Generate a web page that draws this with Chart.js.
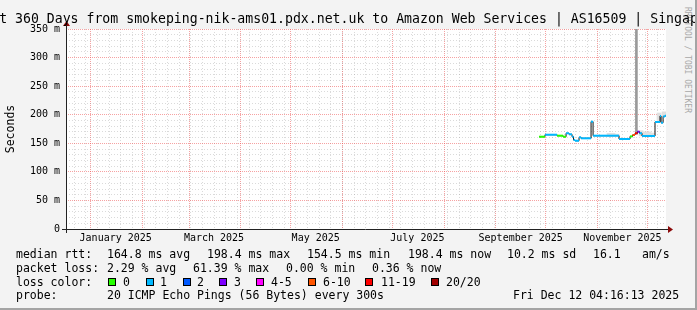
<!DOCTYPE html>
<html><head><meta charset="utf-8">
<script src="https://cdn.jsdelivr.net/npm/chart.js@4/dist/chart.umd.min.js"></script>
<style>
html,body{margin:0;padding:0;}
body{width:697px;height:310px;overflow:hidden;background:#f3f3f3;position:relative;font-family:"DejaVu Sans Mono",monospace;color:#000;}
#frame{position:absolute;left:0;top:0;width:697px;height:310px;box-sizing:border-box;border-right:2px solid #a4a4a4;border-bottom:2px solid #a4a4a4;pointer-events:none;}
canvas{position:absolute;left:0;top:0;}
.t{position:absolute;white-space:pre;font-size:11.5px;line-height:14px;}
#title{position:absolute;left:348.5px;top:10.5px;transform:translateX(-50%);white-space:pre;font-size:13.2px;line-height:16px;}
#wm{position:absolute;left:692px;top:7px;transform-origin:left top;transform:rotate(90deg);white-space:pre;font-size:8px;line-height:9px;color:#a8a8a8;}
.box{position:absolute;width:6px;height:6px;border:1px solid #000;}
</style></head>
<body>
<div id="wm">RRDTOOL / TOBI OETIKER</div>
<canvas id="c" width="697" height="310"></canvas>
<div id="title"></div>
<div id="legend"></div>
<div id="frame"></div>
<script>
// ---------- data ----------
const chartTitle = "Last 360 Days from smokeping-nik-ams01.pdx.net.uk to Amazon Web Services | AS16509 | Singapore";
const windowEnd = "2025-12-12T04:16:13";
const windowDays = 360;

// median RTT steps (each value holds until the next step start)
const stepStart = ["2025-09-27T00:00","2025-09-30T14:00","2025-10-07T19:00","2025-10-11T10:00","2025-10-13T05:00",
  "2025-10-15T00:00","2025-10-16T19:00","2025-10-17T17:00","2025-10-18T14:00","2025-10-21T00:00",
  "2025-10-22T05:00","2025-10-28T05:00","2025-10-29T10:00","2025-11-14T00:00","2025-11-20T14:00",
  "2025-11-22T02:00","2025-11-23T14:00","2025-11-25T02:00","2025-11-26T07:00","2025-11-27T19:00",
  "2025-12-05T14:00","2025-12-08T14:00","2025-12-09T05:00","2025-12-10T10:00","2025-12-11T14:00"];
const medianMs = [161.5,165.0,163.3,161.5,167.5,
  165.7,161.5,155.7,154.5,160.4,
  158.7,187.8,163.3,157.5,162.0,
  164.5,167.5,170.3,167.5,162.8,
  187.3,197.8,186.0,196.9,198.4];
const lossCount = [0,1,0,0,1,
  1,1,1,1,1,
  1,1,1,1,0,
  8,14,3,1,1,
  1,1,1,1,1];

// smoke (spread of individual pings)
const smokeTime = ["2025-11-08T00:00","2025-11-10T10:00","2025-11-12T19:00","2025-11-27T05:00","2025-11-29T14:00",
  "2025-12-02T00:00","2025-12-04T10:00","2025-12-08T00:00","2025-12-11T00:00"];
const smokeLow  = [163,163,163,163,163,163,163,188,197];
const smokeHigh = [167.5,167.5,166,172,170,170,168,203,205];
const spikeTime = ["2025-11-24T10:00"];
const spikeLow  = [166];
const spikeHigh = [380];

// loss colour legend
const lossLabels = ["0","1","2","3","4-5","6-10","11-19","20/20"];
const lossUpper  = [0,1,2,3,5,10,19,20];
const lossColors = ["#26ff00","#00b8ff","#0059ff","#7e00ff","#ff00ff","#ff5500","#ff0000","#a10000"];

// axis labels
const xLabelDates = ["2025-01-16","2025-03-16","2025-05-16","2025-07-16","2025-09-16","2025-11-16"];
const xLabels = ["January 2025","March 2025","May 2025","July 2025","September 2025","November 2025"];
const monthStarts = ["2025-01-01","2025-02-01","2025-03-01","2025-04-01","2025-05-01","2025-06-01",
  "2025-07-01","2025-08-01","2025-09-01","2025-10-01","2025-11-01","2025-12-01"];
const yTickValues = [0,50,100,150,200,250,300,350];
const yTickLabels = ["0","50 m","100 m","150 m","200 m","250 m","300 m","350 m"];

// legend text rows
const statRtt  = ["median rtt:","164.8 ms avg","198.4 ms max","154.5 ms min","198.4 ms now","10.2 ms sd","16.1","am/s"];
const statLoss = ["packet loss:","2.29 % avg","61.39 % max","0.00 % min","0.36 % now"];
const probeRow = ["probe:","20 ICMP Echo Pings (56 Bytes) every 300s","Fri Dec 12 04:16:13 2025"];

// ---------- layout (positions only) ----------
const rttX = [16,107,207,307,408,507,593,642];
const lossX = [16,107,193,286,372];
const boxX = [108,146,183,219,256,308,365,431];
const boxLabelX = [123,160,197,234,271,323,381,446];
const probeX = [16,107,513];
const rowTop = [247,261,275,288];

// ---------- helpers ----------
const endMs = Date.parse(windowEnd + "Z");
const startMs = endMs - windowDays * 864e5;
const toDays = ms => (ms - startMs) / 864e5;
const dayOf = s => toDays(Date.parse((s.length === 10 ? s + "T00:00" : s) + "Z"));
function lossColor(n){ for (let i = 0; i < lossUpper.length; i++) if (n <= lossUpper[i]) return lossColors[i]; return lossColors[lossColors.length-1]; }

// ---------- text ----------
document.getElementById("title").textContent = chartTitle;
const lg = document.getElementById("legend");
function addText(txt, x, y){ const d = document.createElement("div"); d.className = "t"; d.style.left = x + "px"; d.style.top = y + "px"; d.textContent = txt; lg.appendChild(d); }
statRtt.forEach((s,i)=>addText(s, rttX[i], rowTop[0]));
statLoss.forEach((s,i)=>addText(s, lossX[i], rowTop[1]));
addText("loss color:", 16, rowTop[2]);
lossLabels.forEach((s,i)=>{
  const b = document.createElement("div"); b.className = "box"; b.style.left = boxX[i] + "px"; b.style.top = (rowTop[2] + 3) + "px"; b.style.background = lossColors[i]; lg.appendChild(b);
  addText(s, boxLabelX[i], rowTop[2]);
});
probeRow.forEach((s,i)=>addText(s, probeX[i], rowTop[3]));

// ---------- datasets ----------
const stepX = stepStart.map(dayOf);
const blackData = stepX.map((x,i)=>({x, y: medianMs[i]}));
blackData.push({x: windowDays, y: medianMs[medianMs.length-1]});
const colData = [], colColors = [];
stepX.forEach((x,i)=>{
  const x2 = i + 1 < stepX.length ? stepX[i+1] : windowDays;
  const c = lossColor(lossCount[i]);
  colData.push({x, y: medianMs[i]}); colColors.push(c);
  colData.push({x: x2, y: medianMs[i]}); colColors.push(c);
  colData.push({x: x2, y: null}); colColors.push(c);
});
const smokeData = smokeTime.map((t,i)=>({x: dayOf(t), y: [smokeLow[i], smokeHigh[i]]}));
const spikeData = spikeTime.map((t,i)=>({x: dayOf(t), y: [spikeLow[i], spikeHigh[i]]}));

// ---------- ticks ----------
function buildXTicks(scale){
  const t = [];
  for (let d = Date.UTC(2024,11,22); d <= endMs; d += 7*864e5) t.push({value: toDays(d), kind: "minor"});
  monthStarts.forEach(s => t.push({value: dayOf(s), kind: "major"}));
  xLabelDates.forEach((s,i) => t.push({value: dayOf(s), kind: "label", text: xLabels[i]}));
  t.sort((a,b)=>a.value-b.value);
  scale.ticks = t;
}
function buildYTicks(scale){
  const t = [];
  for (let v = 0; v <= 350; v += 10) {
    const k = yTickValues.indexOf(v);
    t.push({value: v, kind: k >= 0 ? "major" : "minor", text: k >= 0 ? yTickLabels[k] : ""});
  }
  scale.ticks = t;
}
const RED = "rgba(238,70,70,0.5)";
const GRAY = "rgba(140,140,140,0.32)";
const gridColor = ctx => { const k = ctx.tick && ctx.tick.kind; return k === "major" ? RED : k === "minor" ? GRAY : "rgba(0,0,0,0)"; };
const gridDash = ctx => { const k = ctx.tick && ctx.tick.kind; return k === "major" ? [1,1] : [1,2]; };

const frame = {
  id: "frame",
  beforeDraw(chart){
    const {ctx, chartArea: a} = chart;
    ctx.save(); ctx.fillStyle = "#ffffff"; ctx.fillRect(a.left, a.top, a.right - a.left, a.bottom - a.top); ctx.restore();
  },
  afterDraw(chart){
    const {ctx, chartArea: a} = chart;
    ctx.save();
    ctx.strokeStyle = "#222"; ctx.lineWidth = 1;
    ctx.beginPath();
    ctx.moveTo(a.left - 4, a.bottom + 0.5); ctx.lineTo(a.right + 3, a.bottom + 0.5);
    ctx.moveTo(a.left + 0.5, a.bottom + 4); ctx.lineTo(a.left + 0.5, a.top - 4);
    ctx.stroke();
    ctx.fillStyle = "#8b0a0a";
    ctx.beginPath();
    ctx.moveTo(a.right + 2, a.bottom - 3); ctx.lineTo(a.right + 7, a.bottom + 0.5); ctx.lineTo(a.right + 2, a.bottom + 4); ctx.closePath(); ctx.fill();
    ctx.beginPath();
    ctx.moveTo(a.left - 3, a.top - 3); ctx.lineTo(a.left + 0.5, a.top - 8); ctx.lineTo(a.left + 4, a.top - 3); ctx.closePath(); ctx.fill();
    ctx.restore();
  }
};

const FONT = "DejaVu Sans Mono";
new Chart(document.getElementById("c"), {
  type: "line",
  data: { datasets: [
    { type: "line", data: colData, borderWidth: 2, pointRadius: 0, spanGaps: false, order: 1,
      borderColor: lossColors[1], segment: { borderColor: ctx => colColors[ctx.p0DataIndex] } },
    { type: "line", data: blackData, borderWidth: 1, pointRadius: 0, stepped: "before", borderColor: "#111", order: 2 },
    { type: "bar", data: spikeData, backgroundColor: "#9a9a9a", barThickness: 2, grouped: false, order: 3 },
    { type: "bar", data: smokeData, backgroundColor: "#e0e0e0", barThickness: 4, grouped: false, order: 4 }
  ]},
  options: {
    responsive: false, animation: false, events: [],
    layout: { padding: { top: 29, right: 31, left: 0, bottom: 0 } },
    plugins: { legend: { display: false }, tooltip: { enabled: false }, title: { display: false } },
    scales: {
      x: { type: "linear", min: 0, max: windowDays, offset: false,
        afterBuildTicks: buildXTicks, afterFit: s => { s.height = 81; },
        ticks: { autoSkip: false, maxRotation: 0, minRotation: 0, padding: 3, color: "#000",
          font: { family: FONT, size: 10 }, callback: (v,i,t) => t[i].text || "" },
        grid: { drawTicks: false, offset: false, color: gridColor, lineWidth: 1 },
        border: { display: false, dash: gridDash } },
      y: { type: "linear", min: 0, max: 350,
        afterBuildTicks: buildYTicks, afterFit: s => { s.width = 66; },
        ticks: { autoSkip: false, padding: 6, color: "#000", font: { family: FONT, size: 10 },
          callback: (v,i,t) => t[i].text || "" },
        title: { display: true, text: "Seconds", color: "#000", font: { family: FONT, size: 11.5 }, padding: { top: 4, bottom: 0 } },
        grid: { drawTicks: false, color: gridColor, lineWidth: 1 },
        border: { display: false, dash: gridDash } }
    }
  },
  plugins: [frame]
});
</script>
</body></html>
